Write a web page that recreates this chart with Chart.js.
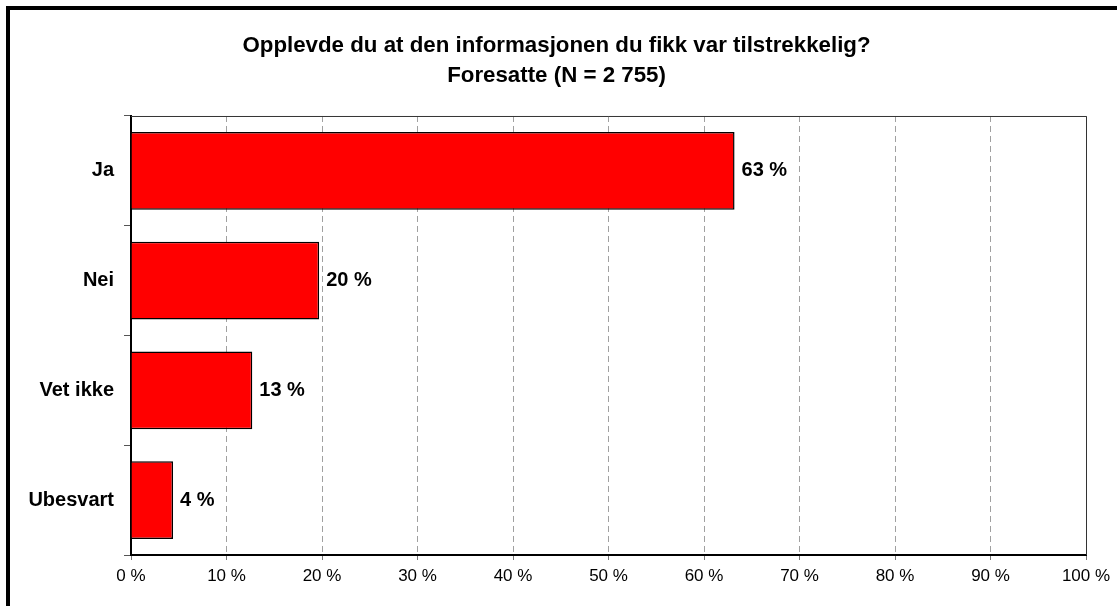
<!DOCTYPE html>
<html>
<head>
<meta charset="utf-8">
<script src="https://cdn.jsdelivr.net/npm/chart.js@4.4.0/dist/chart.umd.min.js"></script>
<style>
  html, body { margin: 0; padding: 0; background: #fff; overflow: hidden; }
  #ramme {
    position: absolute; left: 6px; top: 6px;
    width: 1300px; height: 800px;
    border: 4px solid #000;
  }
  #wrap { position: absolute; left: 0; top: 0; width: 1117px; height: 606px; }
</style>
</head>
<body>
<div id="ramme"></div>
<div id="wrap"><canvas id="grafikk"></canvas></div>
<script>
// data
const kategorier = ["Ja", "Nei", "Vet ikke", "Ubesvart"];
const andeler = [63.2, 19.7, 12.7, 4.4];
const etiketter = ["63 %", "20 %", "13 %", "4 %"];
const tittel = ["Opplevde du at den informasjonen du fikk var tilstrekkelig?", "Foresatte (N = 2 755)"];

const FONT = "'Liberation Sans', Arial, sans-serif";

// ramme rundt plottet (topp og h칮yre tynn, venstre og bunn tykk)
const rammePlugin = {
  id: "rammePlugin",
  afterDraw(chart) {
    const { ctx, chartArea: a } = chart;
    ctx.save();
    ctx.strokeStyle = "#333";
    ctx.lineWidth = 1;
    ctx.beginPath();
    ctx.moveTo(a.left, a.top + 0.5);
    ctx.lineTo(a.right + 0.5, a.top + 0.5);
    ctx.lineTo(a.right + 0.5, a.bottom);
    ctx.stroke();
    ctx.restore();
  }
};

// verdietiketter etter s칮ylene
const verdiPlugin = {
  id: "verdiPlugin",
  afterDatasetsDraw(chart) {
    const ctx = chart.ctx;
    const meta = chart.getDatasetMeta(0);
    ctx.save();
    ctx.font = "bold 20px " + FONT;
    ctx.fillStyle = "#000";
    ctx.textBaseline = "middle";
    ctx.textAlign = "left";
    meta.data.forEach((bar, i) => {
      ctx.fillText(etiketter[i], bar.x + 7, bar.y);
    });
    ctx.restore();
  }
};

new Chart(document.getElementById("grafikk"), {
  type: "bar",
  data: {
    labels: kategorier,
    datasets: [{
      data: andeler,
      backgroundColor: "#ff0000",
      borderColor: "#000",
      borderWidth: 1.5,
      barPercentage: 0.71,
      categoryPercentage: 1
    }]
  },
  options: {
    indexAxis: "y",
    responsive: true,
    maintainAspectRatio: false,
    animation: false,
    layout: { padding: { left: 27, right: 31, top: 0, bottom: 0 } },
    plugins: {
      legend: { display: false },
      tooltip: { enabled: false },
      title: {
        display: true,
        text: tittel,
        color: "#000",
        font: { family: FONT, size: 22.3, weight: "bold", lineHeight: 1.345 },
        padding: { top: 31, bottom: 25 }
      }
    },
    scales: {
      x: {
        min: 0,
        max: 100,
        ticks: {
          stepSize: 10,
          color: "#000",
          padding: 6,
          font: { family: FONT, size: 17 },
          callback: v => v + " %"
        },
        grid: {
          color: "#a0a0a0",
          tickColor: "#777",
          tickLength: 5,
          tickBorderDash: []
        },
        border: { display: true, color: "#000", width: 2, dash: [6, 4] },
        afterFit: s => { s.height = 51; }
      },
      y: {
        ticks: {
          color: "#000",
          padding: 10,
          font: { family: FONT, size: 20, weight: "bold" }
        },
        grid: {
          offset: true,
          drawOnChartArea: false,
          tickLength: 7,
          tickColor: "#555"
        },
        border: { display: true, color: "#000", width: 2 },
        afterFit: s => { s.width = 104; }
      }
    }
  },
  plugins: [rammePlugin, verdiPlugin]
});
</script>
</body>
</html>
